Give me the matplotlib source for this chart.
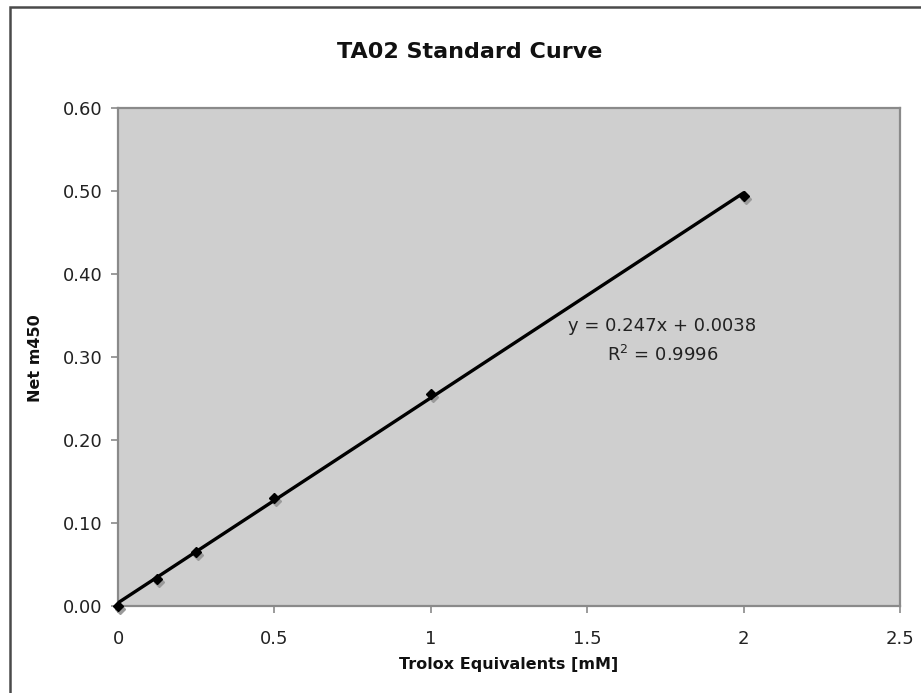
import matplotlib
matplotlib.use("Agg")
import matplotlib.pyplot as plt
import matplotlib.transforms as mtransforms
from matplotlib.patches import Rectangle
import numpy as np

# Trolox standards (mM) and net absorbance at 450 nm
conc = [0, 0.125, 0.25, 0.5, 1.0, 2.0]
net_m450 = [0.000, 0.032, 0.065, 0.130, 0.256, 0.494]

# linear fit as reported on the chart
slope = 0.247
intercept = 0.0038
r_squared = 0.9996

x_ticks = [0, 0.5, 1, 1.5, 2, 2.5]
x_tick_labels = ["0", "0.5", "1", "1.5", "2", "2.5"]
y_ticks = [0.0, 0.1, 0.2, 0.3, 0.4, 0.5, 0.6]

plt.rcParams["font.family"] = ["DejaVu Sans"]

fig = plt.figure(figsize=(9.21, 6.93), dpi=100)
ax = fig.add_axes([118 / 921, 1 - 606 / 693, (900 - 118) / 921, (606 - 108) / 693])

# outer chart frame (runs off the right and bottom edges)
fig.patches.append(Rectangle((10 / 921, -0.2), 1.5, 1.2 - 7 / 693,
                             transform=fig.transFigure, fill=False,
                             edgecolor="#4a4a4a", linewidth=1.8))

ax.set_facecolor("#cfcfcf")
for side in ["left", "bottom", "top", "right"]:
    ax.spines[side].set_color("#8a8a8a")
    ax.spines[side].set_linewidth(1.6)

# trendline
fit_x = np.array([conc[0], conc[-1]])
ax.plot(fit_x, slope * fit_x + intercept, color="black", linewidth=2.4,
        solid_capstyle="round", zorder=3)

# marker shadows, then markers
shadow = ax.transData + mtransforms.ScaledTranslation(2 / 100, -3 / 100, fig.dpi_scale_trans)
ax.plot(conc, net_m450, linestyle="none", marker="D", markersize=5.5,
        color="#9a9a9a", transform=shadow, zorder=2, clip_on=False)
ax.plot(conc, net_m450, linestyle="none", marker="D", markersize=5.5,
        color="black", zorder=4, clip_on=False)

ax.set_xlim(0, 2.5)
ax.set_ylim(0, 0.6)
ax.set_xticks(x_ticks)
ax.set_xticklabels(x_tick_labels)
ax.set_yticks(y_ticks)
ax.set_yticklabels([f"{v:.2f}" for v in y_ticks])
ax.tick_params(axis="both", direction="out", length=5, width=1.2,
               color="#8a8a8a", labelsize=13, labelcolor="#222222", pad=6)
ax.tick_params(axis="x", pad=12)

ax.text(1.74, 0.337, f"y = {slope:.3f}x + {intercept:.4f}", ha="center", va="center",
        fontsize=13, color="#222222")
ax.text(1.74, 0.302, f"R$^2$ = {r_squared:.4f}", ha="center", va="center",
        fontsize=13, color="#222222")

fig.text(470 / 921, 1 - 52 / 693, "TA02 Standard Curve", ha="center", va="center",
         fontsize=16, fontweight="bold", color="#111111")
fig.text(509 / 921, 1 - 664 / 693, "Trolox Equivalents [mM]", ha="center", va="center",
         fontsize=11.5, fontweight="bold", color="#111111")
fig.text(35 / 921, 1 - 358 / 693, "Net m450", ha="center", va="center", rotation=90,
         fontsize=11.5, fontweight="bold", color="#111111")

fig.savefig("out.png", dpi=100, facecolor="white")
